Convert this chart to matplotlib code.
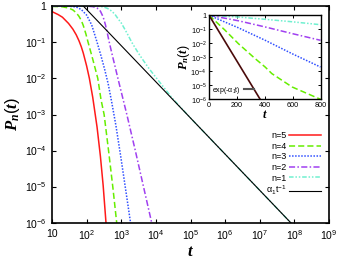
import matplotlib
matplotlib.use('Agg')
import matplotlib.pyplot as plt
from matplotlib.lines import Line2D
from matplotlib.ticker import FixedLocator, FixedFormatter, NullLocator

plt.rcParams['font.family'] = ['Liberation Sans', 'DejaVu Sans']
plt.rcParams['mathtext.fontset'] = 'custom'
plt.rcParams['mathtext.rm'] = 'Liberation Sans'
plt.rcParams['mathtext.it'] = 'Liberation Serif:italic:bold'
plt.rcParams['mathtext.bf'] = 'Liberation Serif:bold'

# main panel, values
t5 = [10, 15, 20, 30, 40, 50, 60, 70, 80, 100, 120, 150, 200, 250, 300, 363]
p5 = [0.70, 0.58, 0.49, 0.33, 0.23, 0.16, 0.11, 0.075, 0.05, 0.022, 0.01,
      3e-3, 4.5e-4, 7e-5, 1.1e-5, 1e-6]

t4 = [10, 20, 30, 40, 50, 60, 70, 80, 95, 110, 150, 210, 260, 320, 430, 570, 740]
p4 = [0.98, 0.95, 0.88, 0.78, 0.65, 0.52, 0.4, 0.29, 0.17, 0.1, 0.034,
      0.01, 2.6e-3, 1e-3, 1e-4, 1e-5, 1e-6]

t3 = [10, 30, 50, 70, 100, 140, 200, 260, 330, 420, 530, 700, 980, 1350, 1860]
p3 = [1, 0.99, 0.94, 0.8, 0.56, 0.3, 0.1, 0.042, 0.018, 7e-3, 2.2e-3,
      5e-4, 6.3e-5, 8e-6, 1e-6]

t2 = [10, 100, 150, 200, 250, 300, 350, 400, 450, 550, 650, 800, 1450, 2550, 4400, 7600]
p2 = [1, 0.99, 0.96, 0.88, 0.72, 0.5, 0.3, 0.17, 0.1, 0.044, 0.023, 0.01,
      1e-3, 1e-4, 1e-5, 1e-6]

t1 = [10, 100, 200, 300, 400, 500, 650, 800, 1000, 1200, 1500, 2000, 3000,
      4000, 6000, 8000, 1.5e4, 3e4, 1e5, 1e6, 1e7, 8e7]
p1 = [1, 1, 0.99, 0.95, 0.86, 0.75, 0.6, 0.45, 0.34, 0.25, 0.17, 0.1, 0.053,
      0.035, 0.02, 0.014, 6.5e-3, 2.8e-3, 8e-4, 8e-5, 8e-6, 1e-6]

t_pow = [80, 8e7]
p_pow = [1, 1e-6]

# inset panel (linear t)
ti_exp = [0, 367]
pi_exp = [1, 1e-6]
ti = [0, 115, 211, 331, 403, 451, 596, 800]
pi4 = [1, 8.5e-2, 9.3e-3, 8e-4, 2e-4, 6.8e-5, 7.6e-6, 1e-6]
ti3 = [0, 211, 403, 596, 800]
pi3 = [1, 0.126, 0.0162, 1.8e-3, 2.0e-4]
pi2 = [1, 0.40, 0.145, 0.049, 0.0162]
pi1 = [1, 0.74, 0.51, 0.34, 0.21]

xt_main = [10, 1e2, 1e3, 1e4, 1e5, 1e6, 1e7, 1e8, 1e9]
xl_main = ['10'] + [r'$10^{%d}$' % k for k in range(2, 10)]
yt = [1e-6, 1e-5, 1e-4, 1e-3, 1e-2, 1e-1, 1]
yl = [r'$10^{-%d}$' % k for k in range(6, 0, -1)] + ['1']

c5, c4, c3, c2, c1 = '#ff1a1a', '#66ee00', '#3050ff', '#a040f0', '#70f0d0'
ls4 = (0, (4, 2))
ls3 = (0, (1, 1))
ls2 = (0, (4, 1.5, 1, 1.5))
ls1 = (0, (3, 1.2, 1, 1.2, 1, 1.2))

fig = plt.figure(figsize=(3.49, 2.63), dpi=100)
ax = fig.add_axes([52/349, 40/263, 277/349, 217/263])
ax.set_xscale('log')
ax.set_yscale('log')
ax.plot(t5, p5, color=c5, lw=1.1, label='n=5')
ax.plot(t4, p4, color=c4, lw=1.1, ls=ls4, label='n=4')
ax.plot(t3, p3, color=c3, lw=1.1, ls=ls3, label='n=3')
ax.plot(t2, p2, color=c2, lw=1.1, ls=ls2, label='n=2')
ax.plot(t1, p1, color=c1, lw=1.1, ls=ls1, label='n=1')
ax.plot(t_pow, p_pow, color='black', lw=0.8, label=r'$\mathregular{\alpha_1 t^{-1}}$')
ax.set_xlim(10, 1e9)
ax.set_ylim(1e-6, 1)
ax.xaxis.set_major_locator(FixedLocator(xt_main))
ax.xaxis.set_major_formatter(FixedFormatter(xl_main))
ax.yaxis.set_major_locator(FixedLocator(yt))
ax.yaxis.set_major_formatter(FixedFormatter(yl))
ax.xaxis.set_minor_locator(NullLocator())
ax.yaxis.set_minor_locator(NullLocator())
ax.tick_params(direction='in', top=True, right=True, length=3, width=0.8,
               labelsize=7.5, pad=4)
for s in ax.spines.values():
    s.set_linewidth(1.2)
ax.set_xlabel('$t$', fontsize=12, labelpad=2)
ax.set_ylabel('$P_n(t)$', fontsize=12, labelpad=2)
ax.legend(loc='lower right', bbox_to_anchor=(0.971, 0.118), frameon=False,
          markerfirst=False, fontsize=6.5, handlelength=3.5,
          labelspacing=0.18, handletextpad=0.3, borderaxespad=0, borderpad=0)

# inset
ins = fig.add_axes([209/349, (263-99.3)/263, 111.5/349, 84.1/263])
ins.set_yscale('log')
ins.plot(ti3, pi1, color=c1, lw=1.1, ls=ls1)
ins.plot(ti3, pi2, color=c2, lw=1.1, ls=ls2)
ins.plot(ti3, pi3, color=c3, lw=1.1, ls=ls3)
ins.plot(ti, pi4, color=c4, lw=1.1, ls=ls4)
ins.plot(ti_exp, pi_exp, color='#4a0a0a', lw=1.2)
ins.set_xlim(0, 800)
ins.set_ylim(1e-6, 1)
ins.set_xticks([0, 200, 400, 600, 800])
ins.yaxis.set_major_locator(FixedLocator(yt))
ins.yaxis.set_major_formatter(FixedFormatter(yl))
ins.yaxis.set_minor_locator(NullLocator())
ins.tick_params(direction='in', top=True, right=True, length=2.5, width=0.7,
                labelsize=5.2, pad=2)
for s in ins.spines.values():
    s.set_linewidth(1.0)
ins.set_xlabel('$t$', fontsize=9, labelpad=0)
ins.set_ylabel('$P_n(t)$', fontsize=9, labelpad=-1)
exp_handle = Line2D([], [], color='#555555', lw=1.5)
ins.legend([exp_handle], [r'exp(-$\mathregular{\alpha_1 t}$)'], loc='lower left',
           frameon=False, fontsize=5, handlelength=1.5, handletextpad=0.4,
           borderaxespad=0.3, borderpad=0.2, markerfirst=False)

fig.savefig('out.png', dpi=100)
